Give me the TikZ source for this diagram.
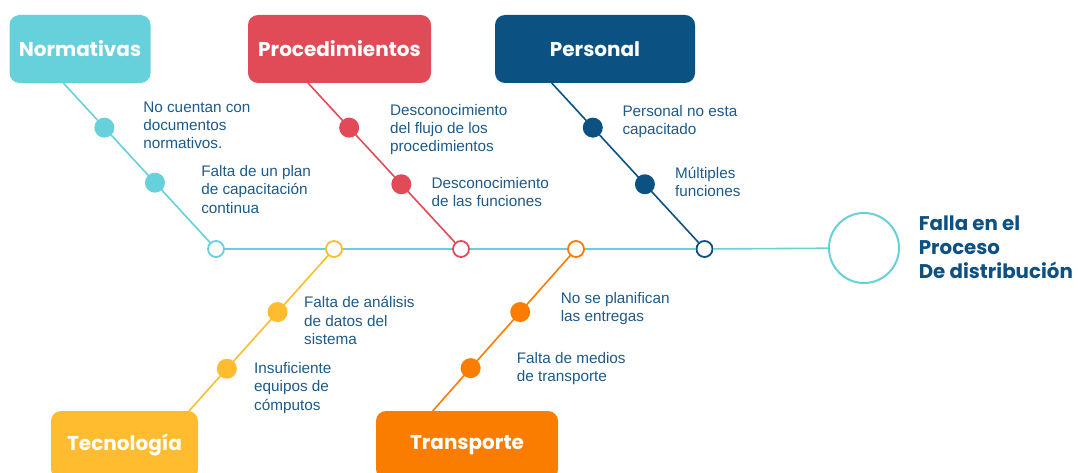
\documentclass[tikz,border=0pt]{standalone}
\usepackage{fontspec}
\setmainfont{Liberation Sans}
\newfontfamily\popfont{Poppins}
\usetikzlibrary{positioning,calc}
\definecolor{normcol}{HTML}{66D1DB}
\definecolor{proccol}{HTML}{E14B58}
\definecolor{perscol}{HTML}{0B5283}
\definecolor{teccol}{HTML}{FEBC2E}
\definecolor{transcol}{HTML}{FB7D00}
\definecolor{txtcol}{HTML}{1D5A8A}
\definecolor{effcol}{HTML}{0E5081}

\begin{document}
\begin{tikzpicture}[x=1pt, y=-1pt, line width=1.6pt,
    cat/.style={rounded corners=10pt, minimum height=68pt, text=white, inner sep=0,
      font=\popfont\bfseries\fontsize{20}{24}\selectfont},
    dot/.style={circle, inner sep=0, minimum size=20pt},
    hub/.style={circle, draw, fill=white, inner sep=0, minimum size=16pt, line width=1.8pt},
    cause/.style={anchor=base west, align=left, text=txtcol, inner sep=0,
      font=\fontsize{15.3}{18.3}\selectfont}]
  \useasboundingbox (0,0) rectangle (1078,473);

  % spine and effect
  \node (s1) [hub, draw=normcol] at (216,249) {};
  \node (s2) [hub, draw=teccol] at (334,249) {};
  \node (s3) [hub, draw=proccol] at (461,249) {};
  \node (s4) [hub, draw=transcol] at (576,249) {};
  \node (s5) [hub, draw=perscol] at (704.5,249) {};
  \node (effect) [circle, draw=normcol, line width=2pt, minimum size=70pt, inner sep=0] at (864,248) {};
  \draw[normcol] (s1) -- (s2);
  \draw[normcol] (s2) -- (s3);
  \draw[normcol] (s3) -- (s4);
  \draw[normcol] (s4) -- (s5);
  \draw[normcol] (s5) -- (effect);
  \node (falla) [anchor=base west, align=left, text=effcol, inner sep=0,
    font=\popfont\bfseries\fontsize{19.8}{24}\selectfont] at (918,278.3) {Falla en el\\Proceso\\De distribución};

  % categories
  \node (norm) [cat, fill=normcol, minimum width=141pt] at (80,49) {Normativas};
  \node (proc) [cat, fill=proccol, minimum width=183pt] at (339.5,49) {Procedimientos};
  \node (pers) [cat, fill=perscol, minimum width=200pt] at (595,49) {Personal};
  \node (tec) [cat, fill=teccol, minimum width=147pt] at (124.5,445) {Tecnología};
  \node (trans) [cat, fill=transcol, minimum width=182pt] at (467,445) {Transporte};
  \coordinate (normfoot) at (63.3,83);
  \coordinate (procfoot) at (308,83);
  \coordinate (persfoot) at (551.7,83);
  \coordinate (tecfoot) at (189,411);
  \coordinate (transfoot) at (432.7,411);

  % branches
  \draw[normcol] (normfoot) -- (s1)
    node[dot, fill=normcol, pos=.28] (norm1) {}
    node[dot, fill=normcol, pos=.625] (norm2) {};
  \draw[proccol] (procfoot) -- (s3)
    node[dot, fill=proccol, pos=.28] (proc1) {}
    node[dot, fill=proccol, pos=.635] (proc2) {};
  \draw[perscol] (persfoot) -- (s5)
    node[dot, fill=perscol, pos=.28] (pers1) {}
    node[dot, fill=perscol, pos=.635] (pers2) {};
  \draw[teccol] (tecfoot) -- (s2)
    node[dot, fill=teccol, pos=.272] (tec1) {}
    node[dot, fill=teccol, pos=.637] (tec2) {};
  \draw[transcol] (transfoot) -- (s4)
    node[dot, fill=transcol, pos=.276] (trans1) {}
    node[dot, fill=transcol, pos=.637] (trans2) {};

  % causes (placed at the baseline of their last line)
  \node [cause] at (142.5,149) {No cuentan con\\documentos\\normativos.};
  \node [cause] at (200.5,213.3) {Falta de un plan\\de capacitación\\continua};
  \node [cause] at (389.3,152) {Desconocimiento\\del flujo de los\\procedimientos};
  \node [cause] at (430.7,206.7) {Desconocimiento\\de las funciones};
  \node [cause] at (621.7,135) {Personal no esta\\capacitado};
  \node [cause] at (674.3,196.5) {Múltiples\\funciones};
  \node [cause] at (303.3,344.3) {Falta de análisis\\de datos del\\sistema};
  \node [cause] at (253.3,410) {Insuficiente\\equipos de\\cómputos};
  \node [cause] at (560,321.7) {No se planifican\\las entregas};
  \node [cause] at (516,381.7) {Falta de medios\\de transporte};
\end{tikzpicture}
\end{document}
